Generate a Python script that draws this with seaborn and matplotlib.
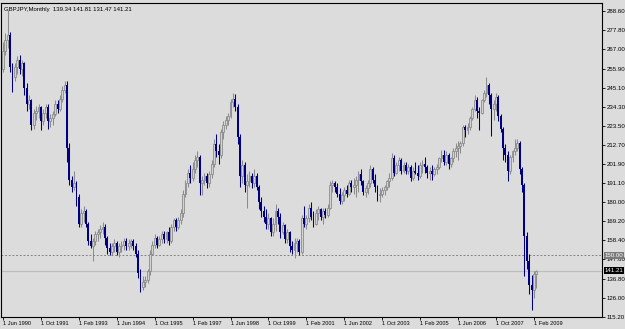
import matplotlib
matplotlib.use("Agg")
import matplotlib.pyplot as plt
import matplotlib.transforms as mtransforms
import seaborn as sns
import numpy as np
import pandas as pd

# ---------------- data (GBPJPY monthly) ----------------
symbol_title = "GBPJPY,Monthly"
first_month = "1990-06-01"

opens = [256, 266, 272, 275, 257, 251, 257, 261, 256, 259, 245, 236, 238, 224, 231, 232, 234, 226, 231, 234,
         226, 228, 230, 236, 233, 239, 244, 247, 211, 193, 189, 191, 183, 168, 174, 175, 168, 158, 155, 158,
         162, 163, 165, 166, 160, 154, 152, 155, 157, 152, 155, 156, 158, 155, 157, 158, 155, 151, 140, 132,
         135, 136, 141, 151, 156, 160, 156, 159, 162, 159, 163, 158, 166, 170, 166, 170, 174, 185, 191, 197,
         194, 199, 204, 206, 191, 193, 195, 191, 196, 202, 213, 209, 207, 220, 224, 227, 229, 237, 239, 234,
         217, 195, 201, 190, 192, 195, 191, 195, 189, 180, 175, 172, 168, 171, 163, 168, 175, 172, 163, 167,
         159, 163, 155, 153, 157, 158, 152, 171, 168, 171, 177, 172, 168, 174, 176, 172, 175, 173, 177, 190,
         191, 189, 185, 181, 184, 187, 185, 191, 189, 190, 193, 196, 192, 186, 188, 191, 199, 193, 189, 184,
         185, 187, 189, 192, 194, 205, 197, 201, 204, 198, 201, 198, 200, 194, 198, 197, 195, 201, 202, 200,
         197, 198, 196, 199, 200, 205, 207, 203, 207, 202, 205, 209, 211, 212, 214, 223, 221, 223, 228, 233,
         238, 232, 231, 238, 242, 247, 241, 233, 236, 240, 229, 222, 211, 207, 198, 206, 209, 211, 214, 199,
         190, 161, 147, 133, 130, 139.34]
highs = [271, 276, 289.5, 277, 259, 259, 263, 264, 261, 260, 248, 241, 239, 233, 235, 236, 235, 233, 236, 236,
         230, 232, 238, 238, 241, 246, 249, 249, 214, 195, 198, 192, 185, 176, 178, 176, 169, 162, 160, 164,
         165, 167, 169, 168, 161, 157, 157, 159, 158, 157, 158, 160, 160, 159, 159, 159, 157, 153, 142, 138,
         138, 142, 153, 158, 162, 161, 161, 164, 164, 164, 166, 168, 171, 171, 172, 176, 187, 193, 199, 201,
         203, 207, 209, 207, 195, 197, 197, 198, 204, 216, 219, 213, 222, 226, 229, 231, 239, 242, 241.5, 236,
         219, 204, 203, 196, 198, 197, 199, 197, 190, 183, 178, 176, 174, 172, 171, 179, 177, 174, 169, 168,
         165, 164, 158, 160, 160, 159, 173, 178, 173, 179, 180, 175, 176, 178, 177, 177, 177, 179, 192, 193,
         192, 191, 188, 186, 189, 190, 193, 193, 194, 195, 198, 199, 193, 190, 193, 201, 200, 196, 190, 188,
         189, 190, 193, 197, 208, 207, 203, 206, 205, 203, 203, 202, 201, 200, 203, 201, 203, 204, 206, 201,
         200, 201, 200, 202, 206, 210, 210, 209, 208, 206, 211, 214, 215, 215, 224, 224, 225, 229, 234, 241,
         240, 234, 239, 244, 251, 248, 242, 238, 242, 241, 230, 223, 213, 209, 207, 210, 216, 216, 215, 200,
         191, 163, 151, 139, 141, 141.81]
lows = [254, 264, 268, 254, 243, 249, 253, 253, 252, 241, 232, 233, 221, 222, 227, 228, 221, 224, 228, 222,
        223, 224, 229, 231, 232, 237, 242, 203, 190, 186, 187, 178, 166, 166, 169, 166, 156, 154, 147, 156,
        158, 160, 162, 156, 151, 150, 150, 152, 150, 149, 152, 153, 153, 153, 154, 153, 149, 137, 129, 130,
        132, 134, 139, 150, 154, 154, 155, 157, 157, 157, 156, 157, 164, 164, 165, 168, 172, 183, 189, 191,
        192, 197, 200, 184, 184, 190, 188, 189, 194, 200, 206, 202, 205, 216, 222, 224, 228, 234, 232, 213,
        189, 191, 186, 177, 189, 188, 189, 187, 176, 172, 169, 165, 165, 161, 161, 164, 168, 160, 162, 157,
        157, 152, 151, 148.5, 152, 150, 151, 166, 165, 169, 170, 166, 167, 170, 170, 168, 171, 172, 176, 186,
        186, 183, 179, 179, 181, 183, 184, 186, 185, 183, 186, 190, 184, 183, 185, 189, 191, 186, 181, 180,
        183, 184, 187, 189, 193, 195, 196, 198, 196, 197, 196, 196, 192, 193, 196, 193, 194, 197, 197, 194,
        193, 193, 195, 196, 199, 203, 201, 201, 199, 200, 203, 206, 204, 208, 212, 217, 219, 221, 227, 232,
        228, 221, 230, 237, 240, 236, 218, 227, 232, 226, 220, 204, 203, 192, 196, 203, 207, 209, 196, 186,
        138.5, 142, 128, 118.8, 126, 131.47]
closes = [266, 272, 275, 257, 251, 257, 261, 256, 259, 245, 236, 238, 224, 231, 232, 234, 226, 231, 234, 226,
          228, 230, 236, 233, 239, 244, 247, 211, 193, 189, 191, 183, 168, 174, 175, 168, 158, 155, 158, 162,
          163, 165, 166, 160, 154, 152, 155, 157, 152, 155, 156, 158, 155, 157, 158, 155, 151, 140, 132, 135,
          136, 141, 151, 156, 160, 156, 159, 162, 159, 163, 158, 166, 170, 166, 170, 174, 185, 191, 197, 194,
          199, 204, 206, 191, 193, 195, 191, 196, 202, 213, 209, 207, 220, 224, 227, 229, 237, 239, 234, 217,
          195, 201, 190, 192, 195, 191, 195, 189, 180, 175, 172, 168, 171, 163, 168, 175, 172, 163, 167, 159,
          163, 155, 153, 157, 158, 152, 171, 168, 171, 177, 172, 168, 174, 176, 172, 175, 173, 177, 190, 191,
          189, 185, 181, 184, 187, 185, 191, 189, 190, 193, 196, 192, 186, 188, 191, 199, 193, 189, 184, 185,
          187, 189, 192, 194, 205, 197, 201, 204, 198, 201, 198, 200, 194, 198, 197, 195, 201, 202, 200, 197,
          198, 196, 199, 200, 205, 207, 203, 207, 202, 205, 209, 211, 212, 214, 223, 221, 223, 228, 233, 238,
          232, 231, 238, 242, 247, 241, 233, 236, 240, 229, 222, 211, 207, 198, 206, 209, 211, 214, 199, 190,
          161, 147, 133, 130, 139.34, 141.21]

price_ticks = [288.60, 277.80, 267.00, 255.90, 245.10, 234.30, 223.50, 212.70, 201.90,
               191.10, 180.00, 169.20, 158.40, 147.60, 136.80, 126.00, 115.20]
marker_level = 150.00
current_price = 141.21

# ---------------- frame ----------------
n = len(closes)
dates = pd.date_range(first_month, periods=n, freq="MS")
df = pd.DataFrame({"date": dates, "open": opens, "high": highs, "low": lows, "close": closes})
df["idx"] = np.arange(n)
df["up"] = df["close"] >= df["open"]

sns.set_style("white")
plt.rcParams["font.family"] = ["Liberation Sans", "DejaVu Sans"]

BG = "#dcdcdc"
W, H = 625, 329
fig = plt.figure(figsize=(W / 100, H / 100), dpi=100)
fig.patch.set_facecolor(BG)
ax = fig.add_axes([1 / W, 12 / H, 601 / W, 314 / H])
ax.set_facecolor(BG)

# x scale: bar spacing ~2.37 px, first bar at pixel 3
px_per_bar = 2.37
ax.set_xlim((1 - 3) / px_per_bar, (602 - 3) / px_per_bar)
ax.set_ylim(114.93, 293.3)

up = df[df["up"]]
dn = df[~df["up"]]
UPC, UPE, DNC = "#d2d2d2", "#8c8c8c", "#000080"

ax.vlines(up["idx"], up["low"], up["high"], color=UPE, lw=0.75, zorder=2)
ax.vlines(dn["idx"], dn["low"], dn["high"], color=DNC, lw=0.75, zorder=2)
ax.bar(up["idx"], (up["close"] - up["open"]).clip(lower=0.4), bottom=up["open"], width=0.8,
       facecolor=UPC, edgecolor=UPE, linewidth=0.6, zorder=3)
ax.bar(dn["idx"], dn["open"] - dn["close"], bottom=dn["close"], width=0.8,
       color=DNC, linewidth=0, zorder=3)

# horizontal lines
ax.axhline(marker_level, color="#707070", lw=0.6, ls=(0, (2.2, 2.2)), zorder=1)
ax.axhline(current_price, color="#bdbdbd", lw=0.9, zorder=1)

# axes styling
for s in ax.spines.values():
    s.set_color("black")
    s.set_linewidth(0.8)
ax.yaxis.tick_right()
ax.set_yticks(price_ticks)
ax.set_yticklabels([f"{v:.2f}" for v in price_ticks])
ax.tick_params(axis="y", direction="out", length=2, width=0.6, pad=1.2, labelsize=4.4,
               colors="black", right=True, left=False)

step = 16
tick_idx = df["idx"].iloc[::step].tolist()
tick_lab = [f"1 {d.strftime('%b %Y')}" for d in df["date"].iloc[::step]]
ax.set_xticks(tick_idx)
ax.set_xticklabels(tick_lab, ha="left")
ax.tick_params(axis="x", direction="out", length=2.5, width=0.6, pad=0.6, labelsize=4.1,
               colors="black", bottom=True)

# price boxes on the right axis
trans = mtransforms.blended_transform_factory(ax.transAxes, ax.transData)
ax.text(1.004, marker_level, f"{marker_level:.2f}", transform=trans, ha="left", va="center",
        fontsize=4.4, color="white", zorder=5,
        bbox=dict(facecolor="#7a7a7a", edgecolor="none", pad=0.6))
ax.text(1.004, current_price, f"{current_price:.2f}", transform=trans, ha="left", va="center",
        fontsize=4.4, color="white", zorder=5,
        bbox=dict(facecolor="black", edgecolor="none", pad=0.6))

# header
last = df.iloc[-1]
hdr = f"{symbol_title}  {last['open']:.2f} {last['high']:.2f} {last['low']:.2f} {last['close']:.2f}"
ax.text(3 / 601, 1 - 4 / 314, hdr, transform=ax.transAxes, ha="left", va="top",
        fontsize=4.3, color="black", zorder=6)

fig.savefig("out.png", dpi=100, facecolor=BG)
